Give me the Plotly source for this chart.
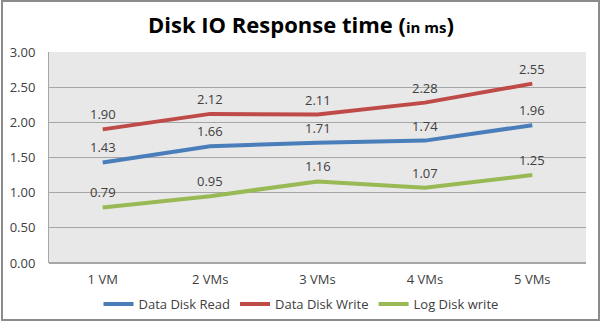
import plotly.graph_objects as go

categories = ["1 VM", "2 VMs", "3 VMs", "4 VMs", "5 VMs"]
data_disk_read = [1.43, 1.66, 1.71, 1.74, 1.96]
data_disk_write = [1.90, 2.12, 2.11, 2.28, 2.55]
log_disk_write = [0.79, 0.95, 1.16, 1.07, 1.25]
y_ticks = [0, 0.5, 1.0, 1.5, 2.0, 2.5, 3.0]

series = [
    ("Data Disk Read", data_disk_read, "#4a7ebb"),
    ("Data Disk Write", data_disk_write, "#be4b48"),
    ("Log Disk write", log_disk_write, "#98b954"),
]

fig = go.Figure()
annotations = []
for name, vals, color in series:
    fig.add_trace(go.Scatter(
        x=categories, y=vals, name=name, mode="lines",
        line=dict(color=color, width=4),
    ))
    for c, v in zip(categories, vals):
        annotations.append(dict(
            x=c, y=v, xref="x", yref="y", text=f"{v:.2f}", showarrow=False,
            yshift=15, font=dict(size=13, color="#404040", family="Open Sans"),
        ))

fig.update_layout(
    width=602, height=324,
    margin=dict(l=49, r=16, t=52, b=61, autoexpand=False),
    paper_bgcolor="white", plot_bgcolor="#e8e8e8",
    font=dict(family="Open Sans", size=13, color="#404040"),
    title=dict(
        text="<b>Disk IO Response time (<span style='font-size:15px'>in ms</span>)</b>",
        x=0.5, xanchor="center", y=1 - 25 / 324, yanchor="middle",
        font=dict(size=22, color="black", family="Open Sans"),
    ),
    showlegend=True,
    legend=dict(orientation="h", x=0.5, xanchor="center", xref="container",
                y=1 - 304 / 324, yanchor="middle", yref="container",
                font=dict(size=13, color="#404040"), bgcolor="rgba(0,0,0,0)",
                itemwidth=30, tracegroupgap=0),
    xaxis=dict(type="category", range=[-0.5, 4.5], showgrid=False,
               showline=False, ticks="", ticklabelstandoff=7, automargin=False,
               tickfont=dict(size=13)),
    yaxis=dict(range=[0, 3], tickvals=y_ticks, tickformat=".2f",
               showgrid=True, gridcolor="#a6a6a6", gridwidth=1,
               showline=True, linecolor="#a6a6a6", zeroline=True,
               zerolinecolor="#a6a6a6", ticks="", ticklabelstandoff=10,
               automargin=False, tickfont=dict(size=13)),
    annotations=annotations,
    shapes=[dict(type="rect", xref="paper", yref="paper",
                 x0=(2 - 49) / 537, x1=(599 - 49) / 537,
                 y0=-(320 - 263) / 211, y1=1 + (52 - 1) / 211,
                 line=dict(color="#8c8c8c", width=2), layer="below")],
)

fig.write_html("out.html")
